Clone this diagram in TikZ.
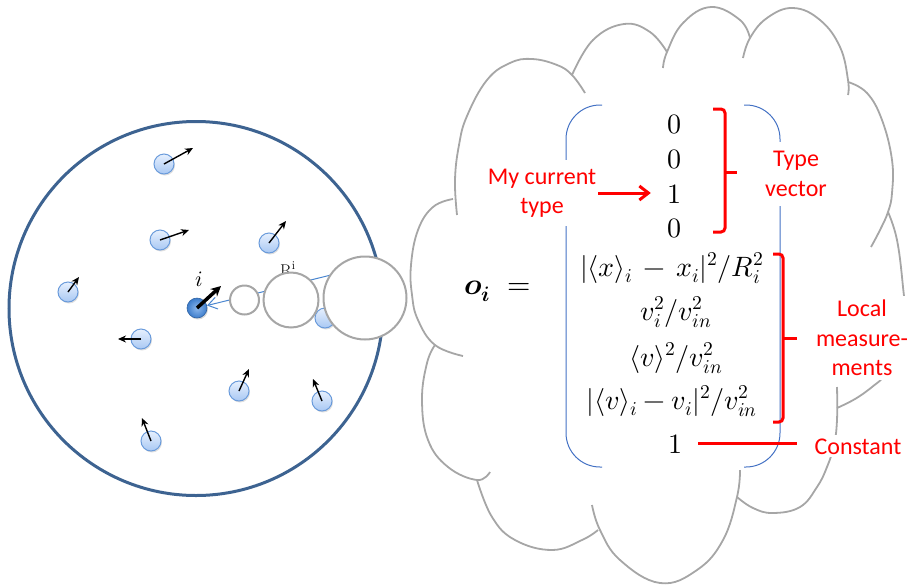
\documentclass[tikz,border=0pt]{standalone}
\usepackage{fontspec}
\usepackage{unicode-math}
\setmathfont{Latin Modern Math}
\newfontfamily\calib{Carlito}
\usetikzlibrary{arrows.meta,shadows}
\definecolor{ringblue}{HTML}{3D6391}
\definecolor{pborder}{HTML}{6A9BDB}
\definecolor{ptop}{HTML}{E6F0FE}
\definecolor{pbot}{HTML}{A9C8F3}
\definecolor{cgray}{HTML}{A6A6A6}
\definecolor{brblue}{HTML}{4472C4}
\definecolor{lineblue}{HTML}{4A86D0}
\definecolor{mainblue}{HTML}{3C7CCB}
\definecolor{mainlight}{HTML}{8DB8EC}
\begin{document}
\begin{tikzpicture}[x=1pt,y=-1pt,
 particle/.style={circle, draw=pborder, line width=1pt, inner sep=0pt, minimum size=20pt, top color=ptop, bottom color=pbot, drop shadow={shadow xshift=1pt,shadow yshift=-1.5pt,opacity=0.25}},
 mainparticle/.style={circle, draw=mainblue!80!black, line width=0.6pt, inner sep=0pt, minimum size=20pt, inner color=mainlight, outer color=mainblue, drop shadow={shadow xshift=1pt,shadow yshift=-1.5pt,opacity=0.3}},
 vel/.style={-{Stealth[length=8pt,width=7pt]}, line width=1.4pt},
 bubble/.style={circle, draw=cgray, line width=2pt, fill=white, inner sep=0pt},
 lobe/.style={draw=cgray, line width=1.8pt},
 mrow/.style={anchor=base, inner sep=0pt, font=\fontsize{28}{34}\selectfont},
 lbl/.style={text=red, font=\calib\fontsize{24}{29.5}\selectfont, align=center, fill=white, inner xsep=2pt, inner ysep=9pt},
 redline/.style={red, line width=3pt},
 brk/.style={draw=brblue, line width=1pt, rounded corners=34pt},
]
\useasboundingbox (0,0) rectangle (910,587);

% ring of neighbours
\node[circle, draw=ringblue, line width=3pt, minimum size=374pt, inner sep=0pt] (ring) at (196,308.5) {};

% particles
\node[particle] (p1) at (164,164) {};
\node[particle] (p2) at (160,240) {};
\node[particle] (p3) at (269,243) {};
\node[particle] (p4) at (68,292) {};
\node[particle] (p5) at (141,339) {};
\node[particle] (p6) at (239,391) {};
\node[particle] (p7) at (322,401) {};
\node[particle] (p8) at (151,441) {};
\node[particle] (p9) at (325,318) {};
\node[mainparticle] (pm) at (197,308) {};

% velocity tips
\coordinate (v1) at (193,148);
\coordinate (v2) at (189,230);
\coordinate (v3) at (286,221);
\coordinate (v4) at (79,277);
\coordinate (v5) at (118,339);
\coordinate (v6) at (249,369);
\coordinate (v7) at (313,379);
\coordinate (v8) at (142,418);
\coordinate (vm) at (221,286);
\draw[vel] (p1.center) -- (v1);
\draw[vel] (p2.center) -- (v2);
\draw[vel] (p3.center) -- (v3);
\draw[vel] (p4.center) -- (v4);
\draw[vel] (p5.center) -- (v5);
\draw[vel] (p6.center) -- (v6);
\draw[vel] (p7.center) -- (v7);
\draw[vel] (p8.center) -- (v8);
\draw[-{Stealth[length=10pt,width=10pt]}, line width=3.5pt] (pm.center) -- (vm);
\node[font=\fontsize{22}{24}\selectfont, inner sep=0pt] (ilabel) at (199,279) {$i$};

% thought line
\coordinate (bl) at (335,274);
\draw[lineblue, line width=1pt, -{Straight Barb[length=9pt,width=12pt]}] (bl) -- (pm);
\node[anchor=base west, inner sep=0pt, font=\fontsize{17}{19}\selectfont] (rl) at (280,276) {R\textsuperscript{i}};

% bubbles
\node[bubble, minimum size=29pt] (b1) at (244.5,300) {};
\node[bubble, minimum size=55pt] (b2) at (291,300) {};
\node[bubble, minimum size=83pt] (b3) at (365,298) {};

% cloud
\draw[lobe] plot[smooth, tension=0.7] coordinates {(457,215) (455,180) (459,145) (467,116) (487,80) (510,63) (532,59) (557,65) (572,75) (585,93)};
\draw[lobe] plot[smooth, tension=0.7] coordinates {(572,75) (593,40) (624,24) (650,32) (667,52)};
\draw[lobe] plot[smooth, tension=0.7] coordinates {(663,68) (667,52) (683,23) (711,7) (740,20) (750,38)};
\draw[lobe] plot[smooth, tension=0.7] coordinates {(743,58) (750,38) (767,18) (793,8) (820,20) (840,47) (848,80) (848,95)};
\draw[lobe] plot[smooth, tension=0.7] coordinates {(848,82) (867,93) (882,120) (892,160) (892,193) (888,212) (880,230) (871,247)};
\draw[lobe] plot[smooth, tension=0.7] coordinates {(888,212) (897,240) (903,287) (905,320) (898,352) (886,374) (872,387) (855,399) (837,408)};
\draw[lobe] plot[smooth, tension=0.7] coordinates {(837,387) (837,420) (834,445) (827,467) (817,487) (800,507) (773,513) (753,508) (737,497)};
\draw[lobe] plot[smooth, tension=0.7] coordinates {(592,505) (600,530) (620,560) (660,583) (697,570) (723,540) (737,497) (740,470)};
\draw[lobe] plot[smooth, tension=0.7] coordinates {(477,480) (492,517) (515,540) (552,550) (582,540) (598,530)};
\draw[lobe] plot[smooth, tension=0.7] coordinates {(435,345) (427,363) (422,400) (428,440) (448,467) (477,480) (490,472)};
\draw[lobe] plot[smooth, tension=0.7] coordinates {(453,199) (433,207) (418,230) (411,265) (412,295) (418,320) (435,345) (463,356)};

% vector brackets
\draw[brk] (602,105) -- (566,105) -- (566,467) -- (602,467);
\draw[brk] (744,105) -- (780,105) -- (780,467) -- (744,467);

% equation
\node[anchor=base west, inner sep=0pt, font=\fontsize{30}{36}\selectfont] (oi) at (464,294) {$\symbfit{o}_{\symbfit{i}}\;=$};
\node[mrow] (r1) at (674,133) {$0$};
\node[mrow] (r2) at (674,168) {$0$};
\node[mrow] (r3) at (674,203) {$1$};
\node[mrow] (r4) at (674,237) {$0$};
\node[mrow] (r5) at (672,276) {$|\langle x\rangle_i \,-\, x_i|^2/R_i^2$};
\node[mrow] (r6) at (676,320) {$v_i^2/v_{in}^2$};
\node[mrow] (r7) at (676,366) {$\langle v\rangle^2/v_{in}^2$};
\node[mrow] (r8) at (672,409) {$|\langle v\rangle_i - v_i|^2/v_{in}^2$};
\node[mrow] (r9) at (675,453) {$1$};

% red brackets
\draw[redline, rounded corners=4pt] (713,109) -- (725,109) -- (725,232) -- (713,232);
\draw[redline] (725,172) -- (737,172);
\draw[redline, rounded corners=4pt] (773,254) -- (783,254) -- (783,422) -- (773,422);
\draw[redline] (783,338) -- (797,338);

% labels
\node[lbl] (mct) at (542,193) {My current\\type};
\node[lbl] (tv) at (796,174) {Type\\vector};
\node[lbl, inner ysep=4pt] (lm) at (862,338) {Local\\measure-\\ments};
\node[lbl, anchor=base, inner ysep=3pt] (const) at (858,454) {Constant};

\draw[redline, -{Straight Barb[length=9pt,width=14pt]}, shorten >=16pt] (mct.east) -- (mct.east -| r3.west);
\draw[redline, shorten <=16pt, shorten >=15pt] (r9.east) -- (r9.east -| const.west);
\end{tikzpicture}
\end{document}
